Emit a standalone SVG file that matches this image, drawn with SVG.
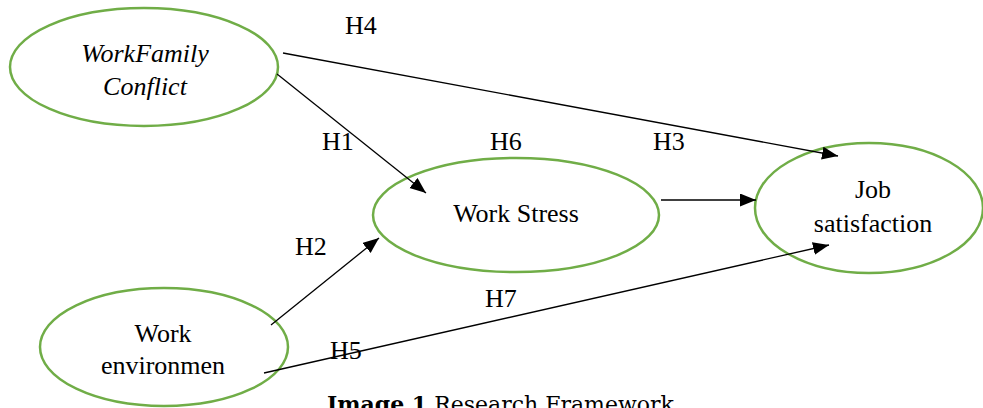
<svg xmlns="http://www.w3.org/2000/svg" width="983" height="408" viewBox="0 0 983 408">
<defs>
<style>
.node{fill:#fff;stroke:#70AD47;stroke-width:2.5}
.t{font-family:"Liberation Serif","Times New Roman",serif;font-size:26px;fill:#000;text-anchor:middle}
.it{font-style:italic}
.lbl{font-family:"Liberation Serif","Times New Roman",serif;font-size:26px;fill:#000}
.edge{stroke:#000;stroke-width:1.3;fill:none;marker-end:url(#arr)}
.cap{font-family:"DejaVu Serif","Liberation Serif",serif;font-size:22px;fill:#000}
</style>
<marker id="arr" markerUnits="userSpaceOnUse" markerWidth="18" markerHeight="14" refX="16" refY="6.5" orient="auto">
<path d="M0,0 L16,6.5 L0,13 Z" fill="#000"/>
</marker>
</defs>
<rect width="983" height="408" fill="#fff"/>
<g id="wfc">
<ellipse class="node" cx="144" cy="67" rx="134" ry="59"/>
<text class="t it" x="145" y="62">WorkFamily</text>
<text class="t it" x="145" y="95">Conflict</text>
</g>
<g id="ws">
<ellipse class="node" cx="516" cy="215" rx="143" ry="57"/>
<text class="t" x="516" y="222">Work Stress</text>
</g>
<g id="js">
<ellipse class="node" cx="869" cy="208" rx="114" ry="65"/>
<text class="t" x="873" y="198">Job</text>
<text class="t" x="873" y="232">satisfaction</text>
</g>
<g id="we">
<ellipse class="node" cx="164" cy="347" rx="124" ry="59"/>
<text class="t" x="163" y="342">Work</text>
<text class="t" x="163" y="374">environmen</text>
</g>
<g id="connectors">
<line class="edge" x1="283" y1="53" x2="838" y2="156"/>
<line class="edge" x1="277" y1="74" x2="426" y2="193"/>
<line class="edge" x1="271" y1="325" x2="379" y2="238"/>
<line class="edge" x1="661" y1="200" x2="756" y2="200"/>
<line class="edge" x1="264" y1="373" x2="829" y2="245"/>
</g>
<g id="labels">
<text class="lbl" x="345" y="34">H4</text>
<text class="lbl" x="322" y="150">H1</text>
<text class="lbl" x="490" y="150">H6</text>
<text class="lbl" x="653" y="150">H3</text>
<text class="lbl" x="295" y="255">H2</text>
<text class="lbl" x="485" y="307">H7</text>
<text class="lbl" x="330" y="359">H5</text>
</g>
<text class="cap" x="327" y="412"><tspan font-weight="bold">Image 1</tspan> Research Framework</text>
</svg>
